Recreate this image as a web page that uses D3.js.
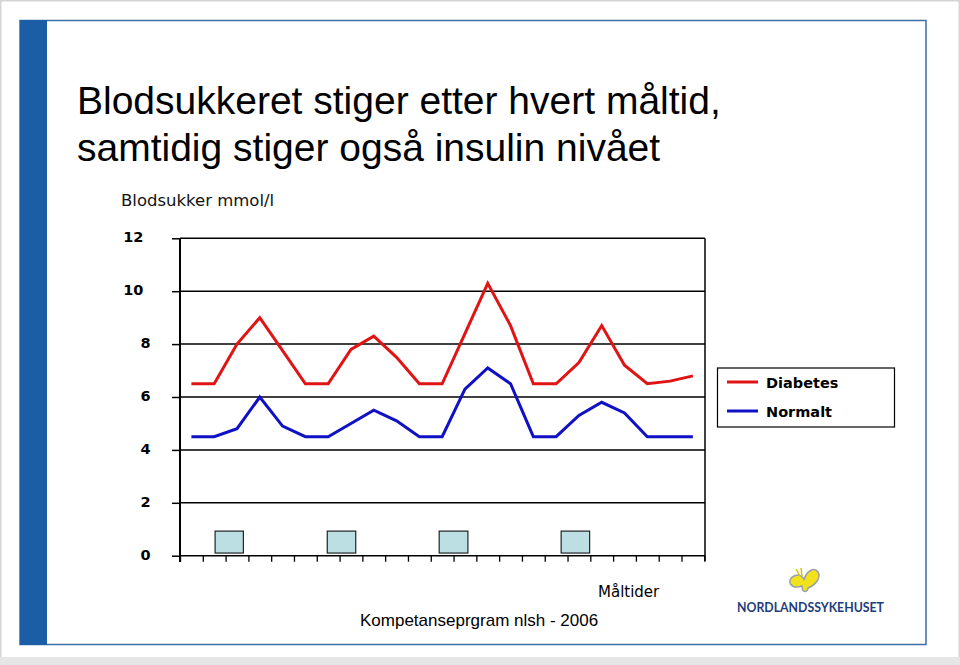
<!DOCTYPE html>
<html><head><meta charset="utf-8">
<script src="https://cdn.jsdelivr.net/npm/d3@7"></script>
<style>html,body{margin:0;padding:0;background:#fff;}svg{display:block;}</style>
</head><body>
<script>
// ---- data ----
const timeSlots = d3.range(23);
const diabetes = [6.5,6.5,8.0,9.0,7.75,6.5,6.5,7.8,8.3,7.5,6.5,6.5,8.4,10.3,8.7,6.5,6.5,7.3,8.7,7.2,6.5,6.6,6.8];
const normalt  = [4.5,4.5,4.8,6.0,4.9,4.5,4.5,5.0,5.5,5.1,4.5,4.5,6.3,7.1,6.5,4.5,4.5,5.3,5.8,5.4,4.5,4.5,4.5];
const meals = [[1.54,2.78],[6.46,7.71],[11.37,12.63],[16.72,17.97]]; // start/end in time slots
const mealLevel = [0.1,0.93];
const yTicks = [0,2,4,6,8,10,12];
const seriesNames = ["Diabetes","Normalt"];
const titleLines = ["Blodsukkeret stiger etter hvert måltid,","samtidig stiger også insulin nivået"];

const W=960,H=665;
const svg=d3.select("body").append("svg").attr("width",W).attr("height",H);

// slide frame
svg.append("rect").attr("x",0.5).attr("y",0.5).attr("width",W-1).attr("height",H-1).attr("fill","#fff").attr("stroke","#d4d4d4").attr("stroke-width",2);
svg.append("rect").attr("x",0).attr("y",657).attr("width",W).attr("height",8).attr("fill","#e6e6e6");
svg.append("rect").attr("x",20).attr("y",20.5).attr("width",906).attr("height",624).attr("fill","#fff").attr("stroke","#3d6fa6").attr("stroke-width",1.5);
svg.append("rect").attr("x",20).attr("y",20).attr("width",27).attr("height",625).attr("fill","#1c5ea6");

// title
titleLines.forEach((t,i)=>svg.append("text").attr("x",77).attr("y",114+i*47)
  .attr("font-family","Liberation Sans, Arial, sans-serif").attr("font-size",39).attr("fill","#000").text(t));
svg.append("text").attr("x",121).attr("y",206).attr("font-family","DejaVu Sans, Verdana, sans-serif")
  .attr("font-size",16.5).attr("fill","#111").text("Blodsukker mmol/l");

// scales
const x=d3.scaleBand().domain(timeSlots).range([180,704.3]).padding(0);
const xu=d3.scaleLinear().domain([0,23]).range([180,704.3]);
const y=d3.scaleLinear().domain([0,12]).range([555.7,238.3]);

// gridlines / y axis
const yAx=svg.append("g").attr("transform","translate(180,0)")
  .call(d3.axisLeft(y).tickValues(yTicks).tickSize(8).tickFormat(d3.format("d")));
yAx.select(".domain").remove();
yAx.selectAll(".tick line").attr("stroke","#000").attr("stroke-width",1.5);
yAx.selectAll(".tick text").attr("x",d=>d>=10?-36.7:-29.5).attr("dy","0.24em").attr("font-family","DejaVu Sans, Verdana, sans-serif")
  .attr("font-weight","bold").attr("font-size",14.5).attr("fill","#000");
svg.append("g").selectAll("line").data(yTicks).join("line")
  .attr("x1",180).attr("x2",705).attr("y1",d=>y(d)).attr("y2",d=>y(d)).attr("stroke","#000").attr("stroke-width",1.5);
// axes lines
svg.append("line").attr("x1",180).attr("x2",180).attr("y1",y(12)).attr("y2",562).attr("stroke","#000").attr("stroke-width",2);
svg.append("line").attr("x1",705).attr("x2",705).attr("y1",y(12)).attr("y2",561).attr("stroke","#000").attr("stroke-width",1.5);
const xAx=svg.append("g").attr("transform",`translate(0,${y(0)})`)
  .call(d3.axisBottom(xu).tickValues(d3.range(24)).tickSize(6).tickFormat(""));
xAx.select(".domain").remove();
xAx.selectAll(".tick line").attr("stroke","#000").attr("stroke-width",1.3);

// meal boxes
svg.append("g").selectAll("rect").data(meals).join("rect")
  .attr("x",d=>xu(d[0])).attr("width",d=>xu(d[1])-xu(d[0]))
  .attr("y",y(mealLevel[1])).attr("height",y(mealLevel[0])-y(mealLevel[1]))
  .attr("fill","#bcdfe4").attr("stroke","#222").attr("stroke-width",1.2);

// lines
const line=d3.line().x((d,i)=>x(i)+x.bandwidth()/2).y(d=>y(d));
const colors=["#e01414","#1010c4"];
[diabetes,normalt].forEach((s,k)=>svg.append("path").datum(s).attr("d",line)
  .attr("fill","none").attr("stroke",colors[k]).attr("stroke-width",3).attr("stroke-linejoin","miter"));

// legend
const lg=svg.append("g");
lg.append("rect").attr("x",717.5).attr("y",368).attr("width",177).attr("height",59).attr("fill","#fff").attr("stroke","#000").attr("stroke-width",1.2);
seriesNames.forEach((n,i)=>{
  const yy=382+i*29;
  lg.append("line").attr("x1",727).attr("x2",758).attr("y1",yy).attr("y2",yy).attr("stroke",colors[i]).attr("stroke-width",3);
  lg.append("text").attr("x",766).attr("y",yy+5.5).attr("font-family","DejaVu Sans, Verdana, sans-serif").attr("font-weight","bold")
    .attr("font-size",14.5).attr("fill","#000").text(n);
});

// footer texts
svg.append("text").attr("x",598).attr("y",597).attr("font-family","DejaVu Sans, Verdana, sans-serif").attr("font-size",15).text("Måltider");
svg.append("text").attr("x",360).attr("y",626).attr("font-family","Liberation Sans, Arial, sans-serif").attr("font-size",17).text("Kompetanseprgram nlsh - 2006");

// logo
const logo=svg.append("g").attr("transform","translate(804,582)");
logo.append("path").attr("d","M-2,4 C-14,8 -18,-2 -10,-6 C-4,-9 0,-4 0,-2 C2,-10 10,-16 14,-10 C18,-4 10,4 4,6 C4,10 -2,12 -2,4 Z")
  .attr("fill","#f2e21c").attr("stroke","#9aa0a8").attr("stroke-width",1.5);
logo.append("path").attr("d","M-4,-6 L-8,-13 M-2,-6 L-3,-14").attr("stroke","#d8c800").attr("stroke-width",1.5);
svg.append("text").attr("x",737).attr("y",612).attr("font-family","Lato, DejaVu Sans, sans-serif").attr("font-weight","bold")
  .attr("font-size",12.3).attr("fill","#1e3d7b").attr("letter-spacing",0).text("NORDLANDSSYKEHUSET");
</script>
</body></html>
